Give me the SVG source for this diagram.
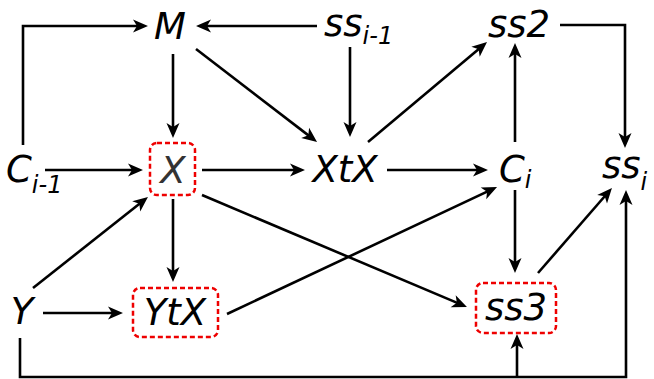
<svg xmlns="http://www.w3.org/2000/svg" width="654" height="379" viewBox="0 0 654 379">
<style>
text{font-family:"DejaVu Sans",sans-serif;font-style:oblique;font-size:37px;fill:#000}
.sub{font-size:24px}
.e{fill:none;stroke:#000;stroke-width:2.6;marker-end:url(#ah)}
.box{fill:none;stroke:#e00;stroke-width:2.5;stroke-dasharray:5,3}
</style>
<defs>
<marker id="ah" markerUnits="userSpaceOnUse" markerWidth="24" markerHeight="16" refX="15" refY="8" orient="auto">
<path d="M23,8 L8,1.5 L12,8 L8,14.5 z" fill="#000"/>
</marker>
</defs>
<rect width="654" height="379" fill="#fff"/>
<g id="connectors">
<polyline class="e" points="23,145 23,26 140,26"/>
<line class="e" x1="317" y1="26" x2="204" y2="26"/>
<line class="e" x1="173" y1="54" x2="173" y2="130"/>
<line class="e" x1="196" y1="49" x2="310.7" y2="137.1"/>
<line class="e" x1="350" y1="47" x2="350" y2="129"/>
<line class="e" x1="368" y1="142" x2="480.9" y2="47.2"/>
<line class="e" x1="515" y1="142" x2="515" y2="51"/>
<polyline class="e" points="560,25 625,25 625,140"/>
<line class="e" x1="45" y1="170" x2="135" y2="170"/>
<line class="e" x1="202" y1="170" x2="297" y2="170"/>
<line class="e" x1="387" y1="170" x2="480" y2="170"/>
<line class="e" x1="33" y1="288" x2="141.7" y2="202"/>
<line class="e" x1="173" y1="199" x2="173" y2="274"/>
<line class="e" x1="43" y1="313" x2="115" y2="313"/>
<line class="e" x1="227" y1="314" x2="489.8" y2="190.4"/>
<line class="e" x1="202" y1="195" x2="459.6" y2="303.9"/>
<line class="e" x1="515" y1="190" x2="515" y2="265"/>
<line class="e" x1="538" y1="273" x2="606.7" y2="194"/>
<polyline class="e" points="20,338 20,377 626,377 626,198"/>
<line class="e" x1="517" y1="377" x2="517" y2="342"/>
</g>
<g id="M"><text x="170" y="39" text-anchor="middle">M</text></g>
<g id="ss_im1"><text x="324" y="36">ss<tspan class="sub" dy="8">i-1</tspan></text></g>
<g id="ss2"><text x="519" y="37" text-anchor="middle">ss2</text></g>
<g id="C_im1"><text x="6" y="182">C<tspan class="sub" dy="11">i-1</tspan></text></g>
<g id="X"><rect class="box" x="150" y="143" width="45" height="52" rx="7"/><text x="173" y="183" text-anchor="middle" style="fill:#333">X</text></g>
<g id="XtX"><text x="345" y="182" text-anchor="middle">XtX</text></g>
<g id="C_i"><text x="499" y="182">C<tspan class="sub" dy="6">i</tspan></text></g>
<g id="ss_i"><text x="602" y="178">ss<tspan class="sub" dy="12">i</tspan></text></g>
<g id="Y"><text x="22" y="324" text-anchor="middle">Y</text></g>
<g id="YtX"><rect class="box" x="133" y="288" width="85" height="49" rx="7"/><text x="175" y="325" text-anchor="middle">YtX</text></g>
<g id="ss3"><rect class="box" x="476" y="283" width="80" height="50" rx="7"/><text x="516" y="320" text-anchor="middle">ss3</text></g>
</svg>
